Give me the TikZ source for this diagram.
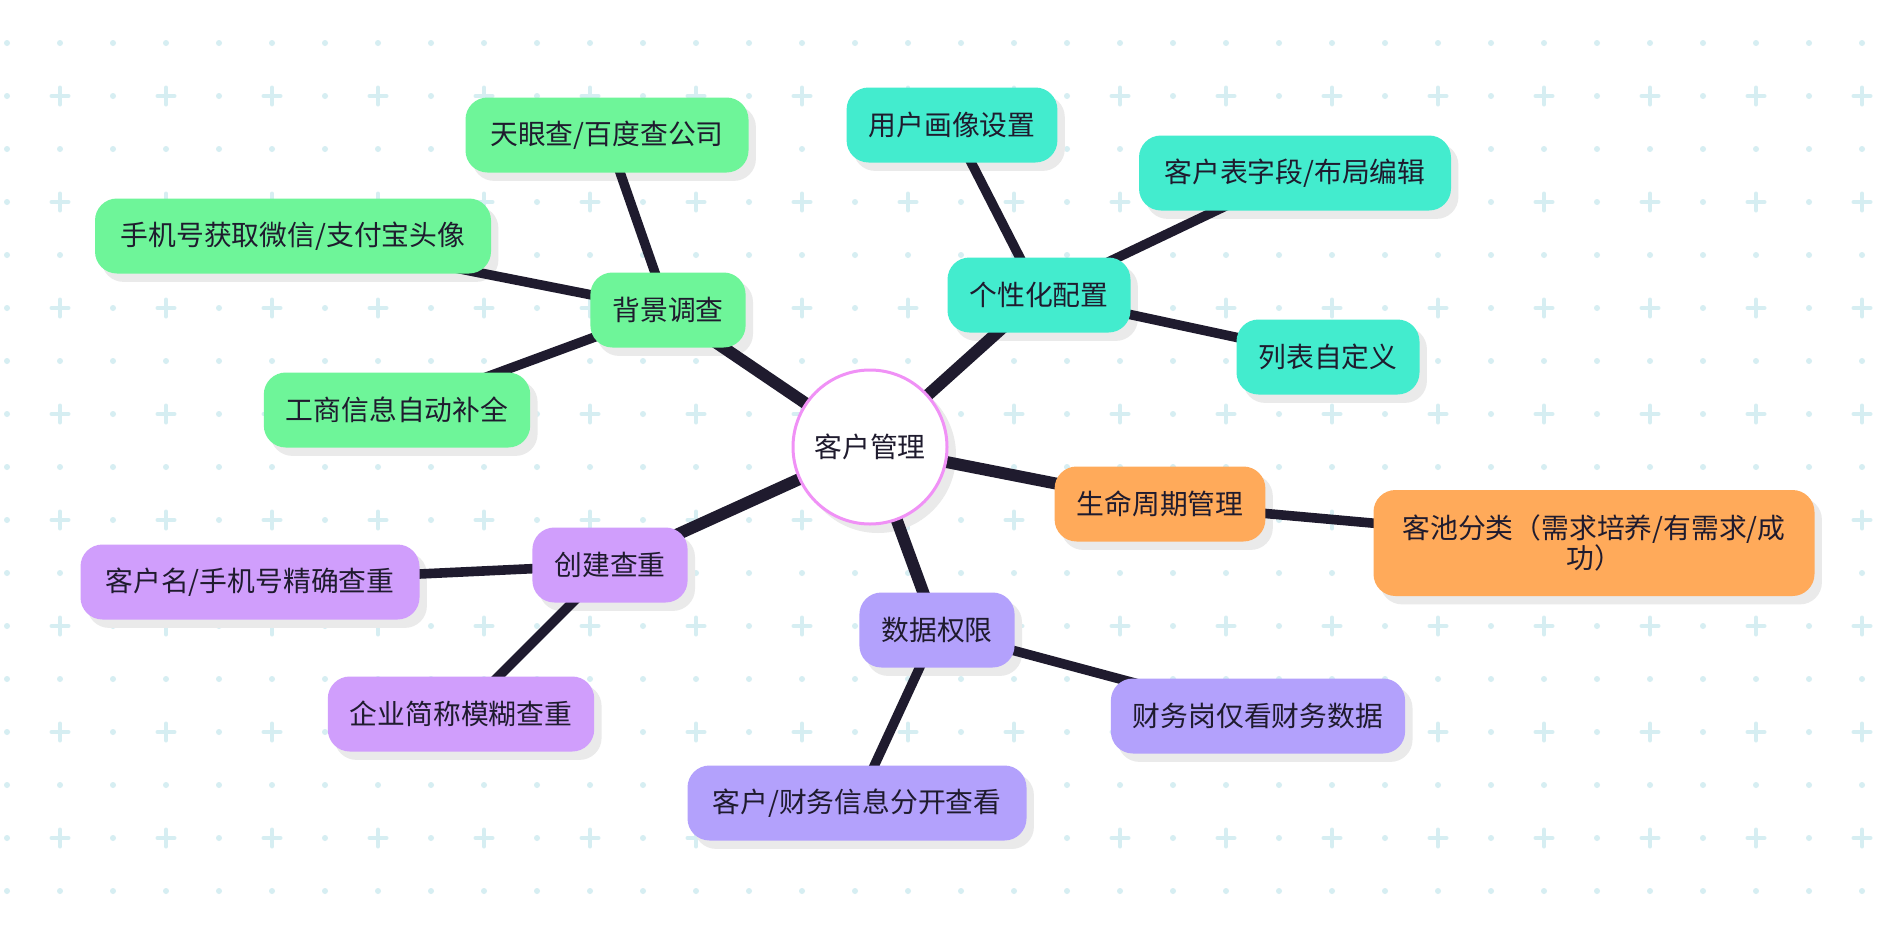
\documentclass[tikz,border=0pt]{standalone}
\usepackage{fontspec}
\setmainfont{Noto Sans CJK SC}
\usepackage{tikz}
\usetikzlibrary{positioning}
\usetikzlibrary{calc}
\definecolor{inkline}{RGB}{31,27,46}
\definecolor{greenbox}{RGB}{110,245,153}
\definecolor{tealbox}{RGB}{67,236,206}
\definecolor{orangebox}{RGB}{255,170,90}
\definecolor{violetbox}{RGB}{208,158,252}
\definecolor{lavbox}{RGB}{179,161,252}
\definecolor{rootring}{RGB}{240,145,246}
\definecolor{dotcol}{RGB}{214,238,242}
\definecolor{shadowgray}{RGB}{234,234,234}
\pgfdeclarelayer{dots}
\pgfdeclarelayer{shade}
\pgfdeclarelayer{links}
\pgfsetlayers{dots,shade,links,main}
\tikzset{mainlink/.style={draw=inkline, line width=6pt}}
\tikzset{sublink/.style={draw=inkline, line width=4.8pt}}

\begin{document}
\begin{tikzpicture}[x=0.5pt,y=-0.5pt]
\tikzstyle{topic} = [rectangle, rounded corners=11pt, minimum height=37.5pt, inner xsep=11pt, text=inkline, font=\fontsize{13.9pt}{15pt}\selectfont]
\tikzstyle{hub} = [circle, minimum size=77pt, fill=white, draw=rootring, line width=1.5pt, text=inkline, font=\fontsize{13.9pt}{15pt}\selectfont]

\useasboundingbox (0,0) rectangle (1886,932);

% dotted paper
\begin{pgfonlayer}{dots}
\fill[white] (0,0) rectangle (1886,932);
\foreach \r in {0,...,16} {
  \foreach \c in {0,...,35} {
    \pgfmathsetmacro\px{7+53*\c}
    \pgfmathsetmacro\py{43+53*\r}
    \pgfmathtruncatemacro\isplus{mod(\r,2)*mod(\c,2)}
    \ifnum\isplus=1
      \draw[dotcol, line width=2pt, line cap=round] (\px-8.5,\py) -- (\px+8.5,\py) (\px,\py-8.5) -- (\px,\py+8.5);
    \else
      \fill[dotcol] (\px,\py) circle[radius=1.5pt];
    \fi
  }
}
\end{pgfonlayer}

\node[hub] (root) at (870,447) {客户管理};

\node[topic, fill=greenbox] (bg) at (668,310) {背景调查};
\node[topic, fill=greenbox, minimum width=141.5pt] (bg1) at (607,135) {天眼查/百度查公司};
\node[topic, fill=greenbox, minimum width=198pt] (bg2) at (293,236) {手机号获取微信/支付宝头像};
\node[topic, fill=greenbox] (bg3) at (397,410) {工商信息自动补全};

\node[topic, fill=tealbox] (pc) at (1039,295) {个性化配置};
\node[topic, fill=tealbox] (pc1) at (952,125) {用户画像设置};
\node[topic, fill=tealbox, minimum width=156pt] (pc2) at (1295,173) {客户表字段/布局编辑};
\node[topic, fill=tealbox] (pc3) at (1328,357) {列表自定义};

\node[topic, fill=orangebox] (lc) at (1160,504) {生命周期管理};
\node[topic, fill=orangebox, minimum height=53pt, minimum width=220.5pt, align=center] (lc1) at (1594,543) {客池分类（需求培养/有需求/成\\功）};

\node[topic, fill=lavbox] (dp) at (937,630) {数据权限};
\node[topic, fill=lavbox] (dp1) at (1258,716) {财务岗仅看财务数据};
\node[topic, fill=lavbox, minimum width=169.5pt] (dp2) at (857,803) {客户/财务信息分开查看};

\node[topic, fill=violetbox] (dup) at (610,565) {创建查重};
\node[topic, fill=violetbox, minimum width=169.5pt] (dup1) at (250,582) {客户名/手机号精确查重};
\node[topic, fill=violetbox] (dup2) at (461,714) {企业简称模糊查重};

% shadows
\begin{pgfonlayer}{shade}
\foreach \n in {bg,bg1,bg2,bg3,pc,pc1,pc2,pc3,lc,lc1,dp,dp1,dp2,dup,dup1,dup2}
  \fill[shadowgray, rounded corners=11pt] ([xshift=3.5pt,yshift=-4pt]\n.south west) rectangle ([xshift=3.5pt,yshift=-4pt]\n.north east);
\fill[shadowgray] ([xshift=4pt,yshift=-4pt]root.center) circle[radius=39pt];
\end{pgfonlayer}

% branches
\begin{pgfonlayer}{links}
\draw[mainlink] (root.center) -- (bg.center);
\draw[mainlink] (root.center) -- (pc.center);
\draw[mainlink] (root.center) -- (lc.center);
\draw[mainlink] (root.center) -- (dp.center);
\draw[mainlink] (root.center) -- (dup.center);
\draw[sublink] (bg.center) -- (bg1.center);
\draw[sublink] (bg.center) -- (bg2.center);
\draw[sublink] (bg.center) -- (bg3.center);
\draw[sublink] (pc.center) -- (pc1.center);
\draw[sublink] (pc.center) -- (pc2.center);
\draw[sublink] (pc.center) -- (pc3.center);
\draw[sublink] (lc.center) -- (lc1.center);
\draw[sublink] (dp.center) -- (dp1.center);
\draw[sublink] (dp.center) -- (dp2.center);
\draw[sublink] (dup.center) -- (dup1.center);
\draw[sublink] (dup.center) -- (dup2.center);
\end{pgfonlayer}
\end{tikzpicture}
\end{document}
